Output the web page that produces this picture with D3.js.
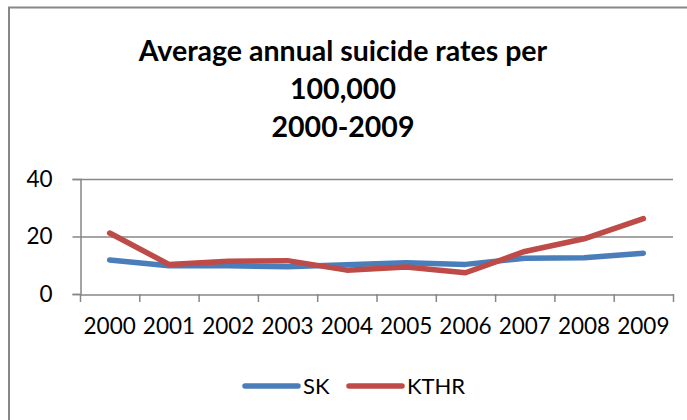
<!DOCTYPE html>
<html>
<head>
<meta charset="utf-8">
<script src="https://cdn.jsdelivr.net/npm/d3@7"></script>
<style>
  body { margin: 0; background: #fff; }
  svg { display: block; font-family: Lato, "Open Sans", sans-serif; }
</style>
</head>
<body>
<div id="chart"></div>
<script>
const width = 687;
const height = 420;

// data
const years = ['2000','2001','2002','2003','2004','2005','2006','2007','2008','2009'];
const sk = [11.8, 9.8, 9.8, 9.5, 10.2, 10.9, 10.3, 12.4, 12.6, 14.2];
const kthr = [21.2, 10.3, 11.4, 11.6, 8.3, 9.4, 7.4, 14.8, 19.2, 26.2];
const seriesNames = ['SK', 'KTHR'];
const seriesColors = ['#4a7ebb', '#be4b48'];
const titleLines = ['Average annual suicide rates per', '100,000', '2000-2009'];
const yTicks = [0, 20, 40];

const plot = {left: 80, right: 673, top: 179, bottom: 294};

const svg = d3.select('#chart')
  .append('svg')
  .attr('width', width)
  .attr('height', height);

// chart frame (runs off the right and bottom edge)
svg.append('rect')
  .attr('x', 9)
  .attr('y', 7.5)
  .attr('width', width + 20)
  .attr('height', height + 20)
  .attr('fill', 'none')
  .attr('stroke', '#878787')
  .attr('stroke-width', 2);

// title
svg.append('g')
  .selectAll('text')
  .data(titleLines)
  .enter()
  .append('text')
  .attr('x', 343)
  .attr('y', (d, i) => 61 + i * 38)
  .attr('text-anchor', 'middle')
  .style('font-size', '28.5px')
  .style('font-weight', 'bold')
  .attr('fill', '#000')
  .text(d => d);

const x = d3.scaleBand()
  .domain(years)
  .range([plot.left, plot.right]);

const y = d3.scaleLinear()
  .domain([0, 40])
  .range([plot.bottom, plot.top]);

// gridlines
svg.append('g')
  .selectAll('line')
  .data(yTicks.filter(t => t > 0))
  .enter()
  .append('line')
  .attr('x1', plot.left)
  .attr('x2', plot.right)
  .attr('y1', d => y(d) + 0.5)
  .attr('y2', d => y(d) + 0.5)
  .attr('stroke', '#878787')
  .attr('stroke-width', 1.5);

// y axis
const yAxis = svg.append('g')
  .attr('transform', `translate(${plot.left + 0.5},0)`)
  .call(d3.axisLeft(y).tickValues(yTicks).tickSize(8).tickPadding(20));

// x axis
const xAxis = svg.append('g')
  .attr('transform', `translate(0,${plot.bottom + 0.5})`)
  .call(d3.axisBottom(x).tickSize(0).tickPadding(24));

// category separators on x axis
svg.append('g')
  .selectAll('line')
  .data(years.concat(['end']))
  .enter()
  .append('line')
  .attr('x1', (d, i) => plot.left + i * x.step() + 0.5)
  .attr('x2', (d, i) => plot.left + i * x.step() + 0.5)
  .attr('y1', plot.bottom)
  .attr('y2', plot.bottom + 8)
  .attr('stroke', '#878787')
  .attr('stroke-width', 1.5);

[yAxis, xAxis].forEach(g => {
  g.select('.domain').attr('stroke', '#878787').attr('stroke-width', 1.5);
  g.selectAll('.tick line').attr('stroke', '#878787').attr('stroke-width', 1.5);
  g.selectAll('.tick text')
    .attr('fill', '#000')
    .style('font-size', '22.5px')
    .style('font-family', 'Lato, sans-serif');
});

// lines
const line = d3.line()
  .x((d, i) => x(years[i]) + x.bandwidth() / 2)
  .y(d => y(d));

[sk, kthr].forEach((s, i) => {
  svg.append('path')
    .datum(s)
    .attr('d', line)
    .attr('fill', 'none')
    .attr('stroke', seriesColors[i])
    .attr('stroke-width', 5.5)
    .attr('stroke-linejoin', 'round')
    .attr('stroke-linecap', 'round');
});

// legend
const legendX = [245, 349];
const legend = svg.append('g')
  .selectAll('g')
  .data(seriesNames)
  .enter()
  .append('g')
  .attr('transform', (d, i) => `translate(${legendX[i]},386)`);

legend.append('line')
  .attr('x1', 0)
  .attr('x2', 53)
  .attr('stroke', (d, i) => seriesColors[i])
  .attr('stroke-width', 5.5)
  .attr('stroke-linecap', 'round');

legend.append('text')
  .attr('x', 58)
  .attr('y', 8)
  .style('font-size', '22px')
  .attr('fill', '#000')
  .text(d => d);
</script>
</body>
</html>
